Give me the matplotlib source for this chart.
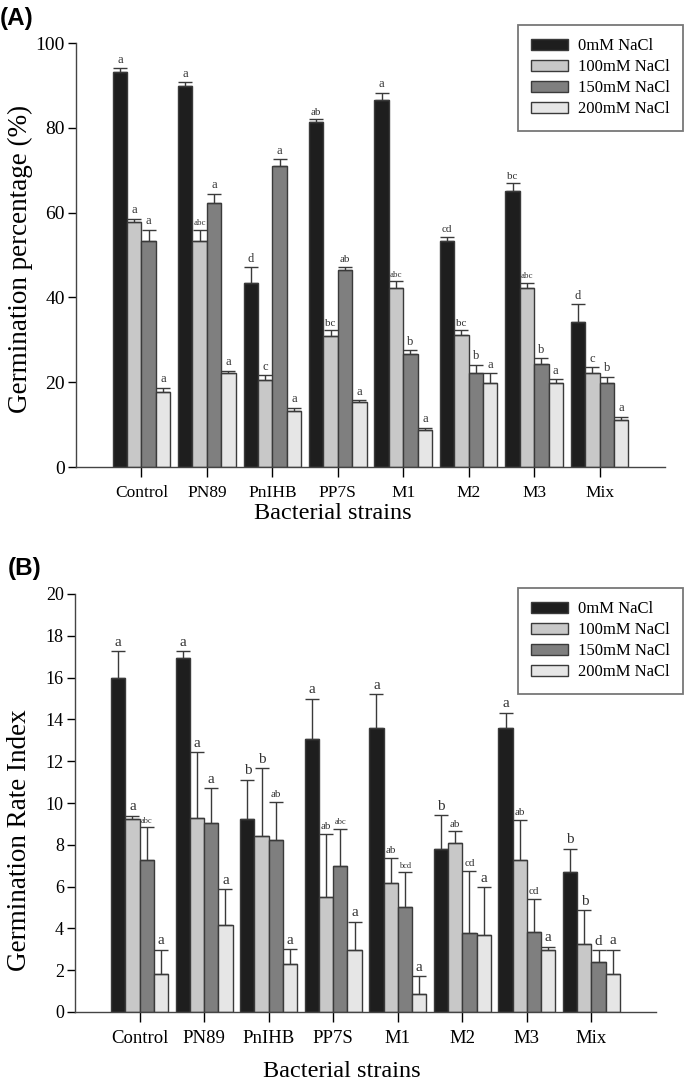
import numpy as np
import matplotlib.pyplot as plt

# --- data ---
strains = ["Control", "PN89", "PnIHB", "PP7S", "M1", "M2", "M3", "Mix"]
levels = ["0mM NaCl", "100mM NaCl", "150mM NaCl", "200mM NaCl"]

# (A) germination percentage
pct_0 = [93.2, 89.8, 43.3, 81.4, 86.5, 53.3, 65.2, 34.3]
pct_100 = [57.7, 53.2, 20.5, 30.9, 42.1, 31.1, 42.1, 22.1]
pct_150 = [53.2, 62.2, 70.9, 46.4, 26.6, 22.1, 24.3, 19.9]
pct_200 = [17.8, 22.1, 13.3, 15.4, 8.8, 19.9, 19.9, 11.0]
pct_err_0 = [0.8, 0.9, 3.8, 0.6, 1.7, 1.0, 1.7, 4.1]
pct_err_100 = [0.8, 2.7, 1.1, 1.4, 1.7, 1.2, 1.4, 1.4]
pct_err_150 = [2.7, 2.2, 1.7, 0.8, 0.9, 2.0, 1.3, 1.4]
pct_err_200 = [0.9, 0.6, 0.7, 0.3, 0.5, 2.2, 0.8, 0.9]
pct_let_0 = ["a", "a", "d", "ab", "a", "cd", "bc", "d"]
pct_let_100 = ["a", "abc", "c", "bc", "abc", "bc", "abc", "c"]
pct_let_150 = ["a", "a", "a", "ab", "b", "b", "b", "b"]
pct_let_200 = ["a"] * 8

# (B) germination rate index
gri_0 = [16.0, 16.96, 9.25, 13.07, 13.61, 7.79, 13.61, 6.70]
gri_100 = [9.24, 9.3, 8.44, 5.48, 6.16, 8.11, 7.28, 3.23]
gri_150 = [7.28, 9.03, 8.22, 6.99, 5.03, 3.77, 3.85, 2.37]
gri_200 = [1.83, 4.17, 2.31, 2.95, 0.88, 3.69, 2.95, 1.83]
gri_err_0 = [1.27, 0.31, 1.86, 1.91, 1.59, 1.62, 0.72, 1.10]
gri_err_100 = [0.14, 3.12, 3.23, 3.04, 1.21, 0.54, 1.91, 1.63]
gri_err_150 = [1.56, 1.67, 1.84, 1.77, 1.66, 3.00, 1.56, 0.58]
gri_err_200 = [1.15, 1.71, 0.70, 1.38, 0.82, 2.27, 0.16, 1.16]
gri_let_0 = ["a", "a", "b", "a", "a", "b", "a", "b"]
gri_let_100 = ["a", "a", "b", "ab", "ab", "ab", "ab", "b"]
gri_let_150 = ["abc", "a", "ab", "abc", "bcd", "cd", "cd", "d"]
gri_let_200 = ["a"] * 8

colors = ["#1e1e1e", "#c8c8c8", "#7f7f7f", "#e6e6e6"]
edge = "#3a3a3a"
serif = "Liberation Serif"

plt.rcParams["font.family"] = serif

fig = plt.figure(figsize=(6.85, 10.84), dpi=100)
W, H = 685, 1084


def px_axes(l, t, r, b):
    return fig.add_axes([l / W, 1 - b / H, (r - l) / W, (b - t) / H])


def panel(ax, vals, errs, lets, ymax, step, lsizes, tick_fs, xt_fs):
    x = np.arange(len(strains))
    bw = 0.22
    offs = [-1.5 * bw, -0.5 * bw, 0.5 * bw, 1.5 * bw]
    for i in range(4):
        v = np.array(vals[i])
        e = np.array(errs[i])
        ax.bar(x + offs[i], v, bw, color=colors[i], edgecolor=edge,
               linewidth=1.0, label=levels[i], zorder=2)
        ax.errorbar(x + offs[i], v, yerr=[np.zeros_like(e), e], fmt="none",
                    ecolor=edge, elinewidth=1.0, capsize=5, capthick=1.0, zorder=3)
        for xi, top, lab in zip(x + offs[i], v + e, lets[i]):
            ax.text(xi, top + ymax * 0.006, lab, ha="center", va="bottom",
                    fontsize=lsizes[len(lab) - 1], color="#333333")
    ax.set_xlim(-1, 8)
    ax.set_ylim(0, ymax)
    ax.set_yticks(np.arange(0, ymax + 0.1, step))
    ax.set_xticks(x)
    ax.set_xticklabels(strains, fontsize=xt_fs)
    ax.tick_params(axis="y", labelsize=tick_fs, direction="out", length=6, width=1, pad=2)
    ax.tick_params(axis="x", direction="out", length=7, width=1, pad=6)
    for s in ["top", "right"]:
        ax.spines[s].set_visible(False)
    for s in ["left", "bottom"]:
        ax.spines[s].set_color("#444444")
        ax.spines[s].set_linewidth(1.0)
    ax.set_xlabel("Bacterial strains", fontsize=17.5)
    ax.xaxis.label.set_va("center")


axA = px_axes(76, 43, 665, 467)
panel(axA, [pct_0, pct_100, pct_150, pct_200],
      [pct_err_0, pct_err_100, pct_err_150, pct_err_200],
      [pct_let_0, pct_let_100, pct_let_150, pct_let_200],
      100, 20, [9, 8, 6.5], 14, 12.5)
axA.set_ylabel("Germination percentage (%)", fontsize=19.5)
axA.yaxis.label.set_va("center")
axA.yaxis.set_label_coords(-0.095, 0.49)
axA.xaxis.set_label_coords(0.436, -0.11)

axB = px_axes(75, 594, 656, 1012)
panel(axB, [gri_0, gri_100, gri_150, gri_200],
      [gri_err_0, gri_err_100, gri_err_150, gri_err_200],
      [gri_let_0, gri_let_100, gri_let_150, gri_let_200],
      20, 2, [11, 8, 6], 13, 13.5)
axB.set_ylabel("Germination Rate Index", fontsize=19.5)
axB.yaxis.label.set_va("center")
axB.yaxis.set_label_coords(-0.095, 0.41)
axB.xaxis.set_label_coords(0.459, -0.143)

for ax, anchor in [(axA, (683 / W, 1 - 25 / H)), (axB, (683 / W, 1 - 588 / H))]:
    leg = ax.legend(loc="upper right", bbox_to_anchor=anchor,
                    bbox_transform=fig.transFigure, fontsize=12,
                    handlelength=2.2, handleheight=0.7, labelspacing=0.3,
                    handletextpad=0.6, borderpad=0.8, borderaxespad=0,
                    fancybox=False, edgecolor="#555555")
    leg.get_frame().set_linewidth(1.3)

fig.text(17 / W, 1 - 18 / H, "(A)", fontsize=17.5, fontweight="bold",
         family="Liberation Sans", ha="center", va="center")
fig.text(25 / W, 1 - 568 / H, "(B)", fontsize=17.5, fontweight="bold",
         family="Liberation Sans", ha="center", va="center")

fig.savefig("out.png", dpi=100)
